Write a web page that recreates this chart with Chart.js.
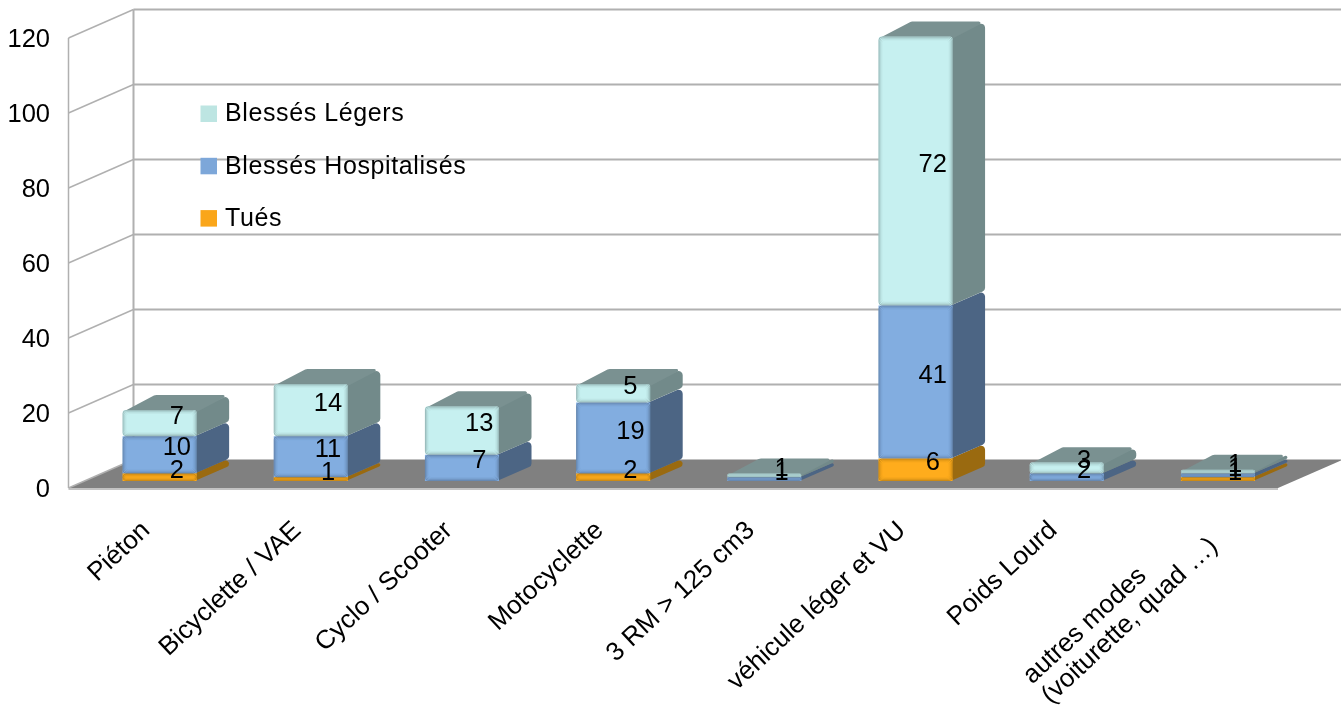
<!DOCTYPE html>
<html>
<head>
<meta charset="utf-8">
<script src="https://cdn.jsdelivr.net/npm/chart.js@4"></script>
<style>
  html, body { margin: 0; padding: 0; background: #fff; }
  canvas { display: block; }
</style>
</head>
<body>
<canvas id="chart" width="1341" height="710"></canvas>
<script>
const categories = ["Piéton", "Bicyclette / VAE", "Cyclo / Scooter", "Motocyclette", "3 RM > 125 cm3", "véhicule léger et VU", "Poids Lourd", ["autres modes", "(voiturette, quad …)"]];
const tues = [2, 1, null, 2, null, 6, null, 1];
const hospitalises = [10, 11, 7, 19, 1, 41, 2, 1];
const legers = [7, 14, 13, 5, 1, 72, 3, 1];
const yTicks = [0, 20, 40, 60, 80, 100, 120];

const frontColors = ["#ffac1c", "#82ade0", "#c6f0f0"];
const sideColors = ["#9a6a10", "#4c6584", "#728a8a"];
const topColor = "#7a9191";
const legendColors = ["#faa61a", "#7da7d9", "#bde5e2"];
const gridColor = "#b0b0b0";
const fontName = "'Liberation Sans', Arial, sans-serif";

// offsets of the fake 3d box
const wallDx = 65, wallDy = -28.5;
const barDx = 15.5, barDy = -7;
const depthDx = 32.5, depthDy = -15;

function eachSegment(chart, fn) {
  chart.data.datasets.forEach((ds, d) => {
    chart.getDatasetMeta(d).data.forEach((el, i) => {
      if (ds.data[i] === null) return;
      const p = el.getProps(["x", "y", "base", "width"], true);
      fn({
        d, i, value: ds.data[i],
        left: p.x - p.width / 2, right: p.x + p.width / 2,
        top: Math.min(p.y, p.base), bottom: Math.max(p.y, p.base), x: p.x
      });
    });
  });
}

// filled polygon, every point is [x, y, cornerRadius]
function poly(ctx, pts, color) {
  const n = pts.length;
  ctx.beginPath();
  ctx.moveTo((pts[0][0] + pts[n - 1][0]) / 2, (pts[0][1] + pts[n - 1][1]) / 2);
  pts.forEach((p, k) => {
    const q = pts[(k + 1) % n];
    ctx.arcTo(p[0], p[1], q[0], q[1], p[2]);
  });
  ctx.closePath();
  ctx.fillStyle = color;
  ctx.fill();
}

const walls = {
  id: "walls",
  beforeDatasetsDraw(chart) {
    const { ctx, chartArea: a, scales } = chart;
    const y = scales.y;
    ctx.save();
    // floor
    const y0 = y.getPixelForValue(0);
    ctx.fillStyle = "#808080";
    ctx.beginPath();
    ctx.moveTo(a.left, y0);
    ctx.lineTo(a.right, y0);
    ctx.lineTo(a.right + wallDx, y0 + wallDy);
    ctx.lineTo(a.left + wallDx, y0 + wallDy);
    ctx.closePath();
    ctx.fill();
    // grid on the side wall and the back wall
    ctx.strokeStyle = gridColor;
    ctx.lineWidth = 1.5;
    yTicks.forEach(v => {
      const py = y.getPixelForValue(v);
      ctx.beginPath();
      ctx.moveTo(a.left, py);
      ctx.lineTo(a.left + wallDx, py + wallDy);
      ctx.stroke();
    });
    ctx.beginPath();
    ctx.moveTo(a.left, y0 + 1);
    ctx.lineTo(a.right, y0 + 1);
    ctx.moveTo(a.left, y0);
    ctx.lineTo(a.left, a.top);
    ctx.stroke();
    ctx.lineWidth = 2;
    ctx.beginPath();
    yTicks.forEach(v => {
      if (v === 0) return;
      const py = y.getPixelForValue(v) + wallDy;
      ctx.moveTo(a.left + wallDx, py);
      ctx.lineTo(a.right + wallDx, py);
    });
    ctx.moveTo(a.left + wallDx, y0 + wallDy);
    ctx.lineTo(a.left + wallDx, a.top + wallDy);
    ctx.stroke();

    // side and top faces, the fronts come from the library
    ctx.translate(barDx, barDy);
    const topmost = {};
    eachSegment(chart, s => { topmost[s.i] = s.d; });
    eachSegment(chart, s => {
      const h = s.bottom - s.top;
      const r = Math.min(4, h / 2);
      poly(ctx, [[s.right - 2, s.bottom, 0], [s.right + depthDx, s.bottom + depthDy, r], [s.right + depthDx, s.top + depthDy, r], [s.right - 2, s.top, 0]], sideColors[s.d]);
    });
    eachSegment(chart, s => {
      if (topmost[s.i] !== s.d) return;
      poly(ctx, [[s.left, s.top + 2, 0.6], [s.left + depthDx, s.top + depthDy, 5], [s.right + depthDx, s.top + depthDy, 1.5], [s.right, s.top + 2, 0]], topColor);
    });
  },
  afterDatasetsDraw(chart) {
    const ctx = chart.ctx;
    // soft rim on the front faces
    eachSegment(chart, s => {
      const h = s.bottom - s.top;
      [0.5, 0.3, 0.15, 0.06].forEach((alpha, k) => {
        if (k * 2 + 1 >= h) return;
        ctx.globalAlpha = alpha;
        ctx.strokeStyle = sideColors[s.d];
        ctx.lineWidth = 1;
        ctx.beginPath();
        ctx.roundRect(s.left + k + 0.5, s.top + k + 0.5, s.right - s.left - 2 * k - 1, h - 2 * k - 1, 3);
        ctx.stroke();
      });
    });
    ctx.restore();

    // value labels
    ctx.save();
    ctx.fillStyle = "#000";
    ctx.font = "25.5px " + fontName;
    ctx.textAlign = "center";
    ctx.textBaseline = "middle";
    eachSegment(chart, s => {
      ctx.fillText(String(s.value), s.x + barDx + depthDx / 2 + 1, (s.top + s.bottom) / 2 + barDy + depthDy / 2 + 1);
    });

    // y axis labels
    ctx.textAlign = "right";
    yTicks.forEach(v => {
      ctx.fillText(String(v), 50, chart.scales.y.getPixelForValue(v) + 1.5);
    });

    // legend
    const rows = [2, 1, 0];
    ctx.font = "25px " + fontName;
    ctx.textAlign = "left";
    ctx.letterSpacing = "0.6px";
    rows.forEach((d, k) => {
      const cy = 113.5 + k * 52.3;
      ctx.fillStyle = legendColors[d];
      ctx.fillRect(200.5, cy - 8, 16.5, 16.5);
      ctx.fillStyle = "#000";
      ctx.fillText(chart.data.datasets[d].label, 225, cy + 1);
    });
    ctx.letterSpacing = "0px";

    // category labels at about 45 degrees, lines start aligned
    const x = chart.scales.x;
    ctx.font = "26px " + fontName;
    ctx.textBaseline = "alphabetic";
    categories.forEach((cat, i) => {
      const lines = Array.isArray(cat) ? cat : [cat];
      const w = Math.max(...lines.map(l => ctx.measureText(l).width));
      const shift = lines.length > 1 ? [-9, -4] : [0, 0];
      ctx.save();
      ctx.translate(x.getPixelForValue(i) + 7 + shift[0], 532 + shift[1]);
      ctx.rotate(-43 * Math.PI / 180);
      lines.forEach((l, k) => ctx.fillText(l, -w, k * 27));
      ctx.restore();
    });
    ctx.restore();
  }
};

function barDataset(label, data, d) {
  return {
    label, data,
    yAxisID: "yBars",
    backgroundColor: frontColors[d],
    borderWidth: 0,
    borderRadius: 3,
    borderSkipped: false,
    barPercentage: 0.49,
    categoryPercentage: 1,
    clip: false
  };
}

new Chart(document.getElementById("chart"), {
  type: "bar",
  data: {
    labels: categories,
    datasets: [
      barDataset("Tués", tues, 0),
      barDataset("Blessés Hospitalisés", hospitalises, 1),
      barDataset("Blessés Légers", legers, 2)
    ]
  },
  options: {
    responsive: false,
    animation: false,
    devicePixelRatio: 1,
    layout: { padding: { top: 38, right: 63, left: 0, bottom: 0 } },
    plugins: { legend: { display: false }, tooltip: { enabled: false } },
    scales: {
      x: {
        stacked: true,
        grid: { display: false },
        border: { display: false },
        ticks: { display: false },
        afterFit(scale) { scale.height = 222; }
      },
      y: {
        min: 0,
        max: 120,
        afterFit(scale) { scale.width = 68.5; },
        afterBuildTicks(scale) { scale.ticks = yTicks.map(value => ({ value })); },
        grid: { display: false },
        border: { display: false },
        ticks: { display: false }
      },
      yBars: { stacked: true, display: false, min: 0, max: 120.5 }
    }
  },
  plugins: [walls]
});
</script>
</body>
</html>
